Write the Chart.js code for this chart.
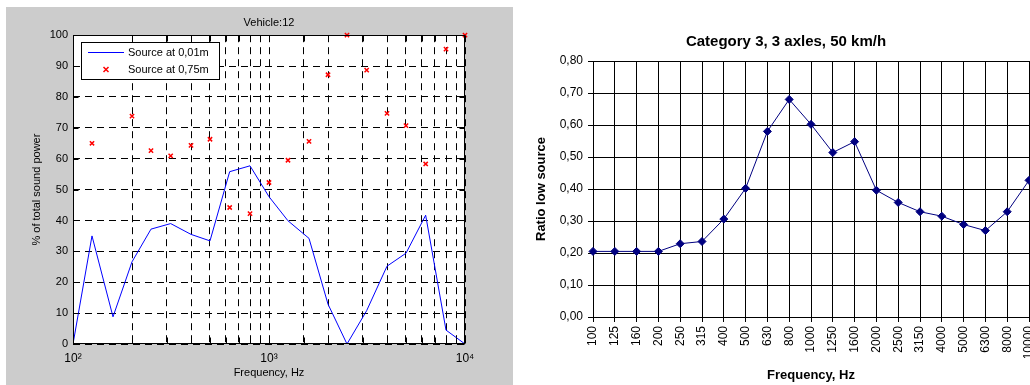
<!DOCTYPE html>
<html>
<head>
<meta charset="utf-8">
<script src="https://cdn.jsdelivr.net/npm/chart.js@4.4.0/dist/chart.umd.min.js"></script>
<style>
  html, body { margin: 0; padding: 0; background: #fff; overflow: hidden; width: 1030px; height: 385px; }
  #left { position: absolute; left: 0; top: 0; }
  #right { position: absolute; left: 520px; top: 0; }
</style>
</head>
<body>
<canvas id="left" width="515" height="385"></canvas>
<canvas id="right" width="532" height="385"></canvas>
<script>
// Left plot: share of total sound power per 1/3 octave band
const freqs = [100, 125, 160, 200, 250, 315, 400, 500, 630, 800, 1000, 1250, 1600, 2000, 2500, 3150, 4000, 5000, 6300, 8000, 10000];
const src001 = [0, 35, 8.8, 26.6, 37.2, 39, 35.5, 33.4, 55.8, 57.7, 47.7, 39.9, 34.2, 12.9, 0, 10.8, 25.2, 29.4, 41.7, 4.5, 0];
const src075 = [null, 65, null, 73.8, 62.6, 60.9, 64.3, 66.3, 44.2, 42.2, 52.3, 59.5, 65.6, 87.2, 100, 88.7, 74.7, 70.7, 58.3, 95.5, 100];
const decadeLabels = { 100: '10²', 1000: '10³', 10000: '10⁴' };

// Right plot: ratio low source
const bands = ['100', '125', '160', '200', '250', '315', '400', '500', '630', '800', '1000', '1250', '1600', '2000', '2500', '3150', '4000', '5000', '6300', '8000', '10000'];
const ratio = [0.205, 0.205, 0.205, 0.205, 0.229, 0.236, 0.306, 0.402, 0.580, 0.680, 0.602, 0.514, 0.548, 0.396, 0.358, 0.329, 0.315, 0.289, 0.270, 0.329, 0.427];

const matlabFont = { family: '"Liberation Sans", Arial, sans-serif', size: 11 };
const excelFont = { family: '"Liberation Sans", Arial, sans-serif', size: 12 };

// grey figure background + white axes
const figureBg = {
  id: 'figureBg',
  beforeDraw(chart) {
    const { ctx, chartArea: a } = chart;
    ctx.save();
    ctx.fillStyle = '#cccccc';
    ctx.fillRect(6, 7, 507, 378);
    ctx.fillStyle = '#fff';
    ctx.fillRect(a.left, a.top, a.right - a.left, a.bottom - a.top);
    ctx.restore();
  }
};

// box around axes with inward ticks
const matlabBox = {
  id: 'matlabBox',
  afterDraw(chart) {
    const { ctx, chartArea: a } = chart;
    const xs = chart.scales.x, ys = chart.scales.y;
    const L = Math.round(a.left) + 0.5, R = Math.round(a.right) - 0.5;
    const T = Math.round(a.top) + 0.5, B = Math.round(a.bottom) - 0.5;
    ctx.save();
    ctx.strokeStyle = '#000';
    ctx.lineWidth = 1;
    ctx.beginPath();
    ys.ticks.forEach(t => {
      const y = Math.round(ys.getPixelForValue(t.value)) + 0.5;
      ctx.moveTo(L, y); ctx.lineTo(L + 5, y);
      ctx.moveTo(R, y); ctx.lineTo(R - 5, y);
    });
    xs.ticks.forEach(t => {
      const x = Math.round(xs.getPixelForValue(t.value)) + 0.5;
      ctx.moveTo(x, B); ctx.lineTo(x, B - 6);
      ctx.moveTo(x, T); ctx.lineTo(x, T + 6);
    });
    ctx.stroke();
    ctx.strokeRect(L, T, R - L, B - T);
    ctx.restore();
  }
};

// MATLAB style legend inside the axes
const boxLegend = {
  id: 'boxLegend',
  afterDraw(chart) {
    const { ctx, chartArea: a } = chart;
    const ds = chart.data.datasets;
    const x0 = Math.round(a.left) + 8, y0 = Math.round(a.top) + 7, w = 139, h = 38;
    ctx.save();
    ctx.fillStyle = '#fff';
    ctx.fillRect(x0, y0, w, h);
    ctx.strokeStyle = '#000';
    ctx.lineWidth = 1;
    ctx.strokeRect(x0 + 0.5, y0 + 0.5, w - 1, h - 1);
    ctx.font = '11px "Liberation Sans", Arial, sans-serif';
    ctx.textBaseline = 'middle';
    ctx.fillStyle = '#000';
    ctx.strokeStyle = ds[0].borderColor;
    ctx.beginPath();
    ctx.moveTo(x0 + 7, y0 + 10.5);
    ctx.lineTo(x0 + 43, y0 + 10.5);
    ctx.stroke();
    ctx.fillText(ds[0].label, x0 + 47, y0 + 10.5);
    const mx = x0 + 25, my = y0 + 27.5;
    ctx.strokeStyle = ds[1].borderColor;
    ctx.lineWidth = 1.5;
    ctx.beginPath();
    ctx.moveTo(mx - 2.5, my - 2.5); ctx.lineTo(mx + 2.5, my + 2.5);
    ctx.moveTo(mx - 2.5, my + 2.5); ctx.lineTo(mx + 2.5, my - 2.5);
    ctx.stroke();
    ctx.fillText(ds[1].label, x0 + 47, my);
    ctx.restore();
  }
};

new Chart(document.getElementById('left'), {
  type: 'line',
  data: {
    datasets: [
      {
        label: 'Source at 0,01m',
        data: freqs.map((f, i) => ({ x: f, y: src001[i] })),
        borderColor: '#0000ff',
        borderWidth: 1,
        pointRadius: 0,
        fill: false,
        tension: 0
      },
      {
        label: 'Source at 0,75m',
        data: freqs.map((f, i) => ({ x: f, y: src075[i] })),
        showLine: false,
        borderColor: '#ff0000',
        backgroundColor: '#ff0000',
        pointStyle: 'crossRot',
        pointRadius: 3,
        pointBorderWidth: 1.5,
        clip: false
      }
    ]
  },
  options: {
    responsive: false,
    animation: false,
    devicePixelRatio: 1,
    layout: { padding: { right: 50 } },
    plugins: {
      legend: { display: false },
      tooltip: { enabled: false },
      title: {
        display: true,
        text: 'Vehicle:12',
        fullSize: false,
        color: '#000',
        font: { ...matlabFont, weight: 'normal' },
        padding: { top: 16, bottom: 6 }
      }
    },
    scales: {
      x: {
        type: 'logarithmic',
        min: 100,
        max: 10000,
        afterFit: s => { s.height = 41; },
        grid: { color: '#000', drawTicks: false, lineWidth: 1 },
        border: { display: false, dash: [7, 5] },
        ticks: {
          color: '#000', font: { ...matlabFont, size: 12 }, padding: 7, maxRotation: 0, autoSkip: false,
          callback: v => decadeLabels[v] || ''
        },
        title: { display: true, text: 'Frequency, Hz', color: '#000', font: matlabFont, padding: { top: 0, bottom: 5 } }
      },
      y: {
        min: 0,
        max: 100,
        afterFit: s => { s.width = 73; },
        grid: { color: '#000', drawTicks: false, lineWidth: 1 },
        border: { display: false, dash: [7, 5] },
        ticks: { stepSize: 10, color: '#000', font: matlabFont, padding: 5 },
        title: { display: true, text: '% of total sound power', color: '#000', font: matlabFont, padding: { top: 30, bottom: 0 } }
      }
    }
  },
  plugins: [figureBg, matlabBox, boxLegend]
});

new Chart(document.getElementById('right'), {
  type: 'line',
  data: {
    labels: bands,
    datasets: [{
      label: 'Ratio low source',
      data: ratio,
      borderColor: '#000080',
      backgroundColor: '#000080',
      borderWidth: 1,
      pointStyle: 'rectRot',
      pointRadius: 4,
      pointBorderWidth: 1,
      tension: 0,
      clip: false
    }]
  },
  options: {
    responsive: false,
    animation: false,
    devicePixelRatio: 1,
    // equal side padding keeps the title centred on the whole chart object
    layout: { padding: { left: 23, right: 23 } },
    plugins: {
      legend: { display: false },
      tooltip: { enabled: false },
      title: {
        display: true,
        text: 'Category 3, 3 axles, 50 km/h',
        color: '#000',
        font: { ...excelFont, size: 15, weight: 'bold' },
        padding: { top: 33, bottom: 10 }
      }
    },
    scales: {
      x: {
        offset: false,
        afterFit: s => { s.height = 68; },
        grid: { color: '#000', tickLength: 5, offset: false },
        border: { color: '#000' },
        ticks: { color: '#000', font: excelFont, minRotation: 90, maxRotation: 90, autoSkip: false, padding: 4 },
        title: { display: true, text: 'Frequency, Hz', color: '#000', font: { ...excelFont, size: 13, weight: 'bold' }, padding: { top: 0, bottom: 2 } }
      },
      y: {
        min: 0,
        max: 0.8,
        afterFit: s => { s.width = 50; },
        grid: { color: '#000', tickLength: 5 },
        border: { color: '#000' },
        ticks: { stepSize: 0.1, color: '#000', font: excelFont, padding: 5, callback: v => v.toFixed(2).replace('.', ',') },
        title: { display: true, text: 'Ratio low source', color: '#000', font: { ...excelFont, size: 13, weight: 'bold' }, padding: { top: -9, bottom: 0 } }
      }
    }
  }
});
</script>
</body>
</html>
